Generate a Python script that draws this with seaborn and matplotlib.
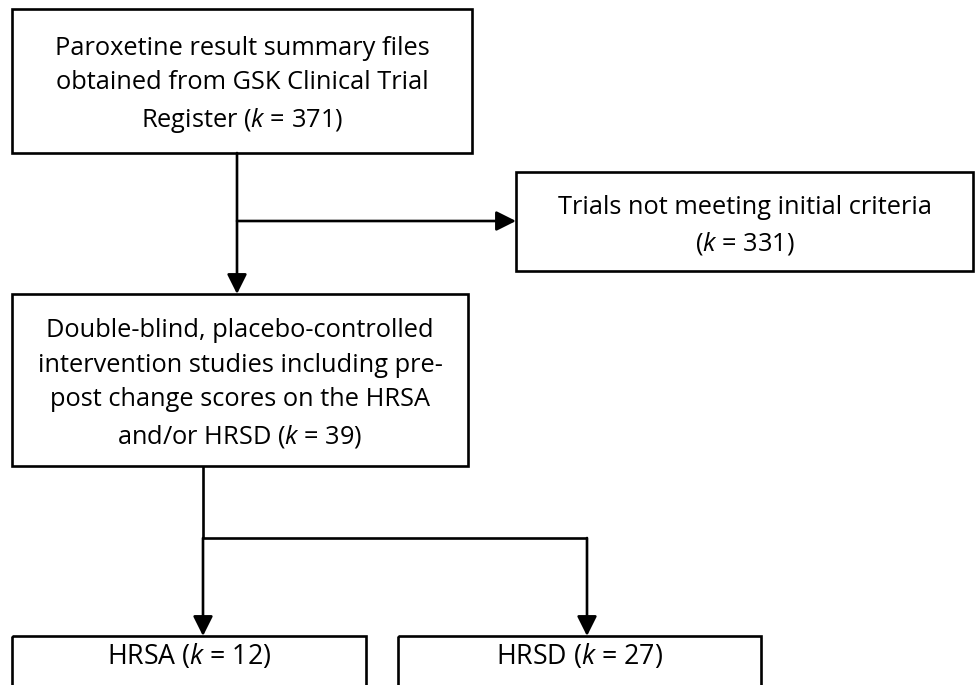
import matplotlib
matplotlib.use("Agg")
from matplotlib import pyplot as plt
from matplotlib.patches import Rectangle
import seaborn as sns

# Flow chart content
stage_labels = [
    "Paroxetine result summary files\nobtained from GSK Clinical Trial\nRegister",
    "Trials not meeting initial criteria\n",
    "Double-blind, placebo-controlled\nintervention studies including pre-\npost change scores on the HRSA\nand/or HRSD",
    "HRSA",
    "HRSD",
]
stage_k = [371, 331, 39, 12, 27]

sns.set_theme(style="white")
plt.rcParams["font.family"] = ["Open Sans", "DejaVu Sans"]
plt.rcParams["mathtext.fontset"] = "custom"
plt.rcParams["mathtext.it"] = "Open Sans:italic"
plt.rcParams["mathtext.rm"] = "Open Sans"

fig = plt.figure(figsize=(9.75, 6.85), dpi=100)
ax = fig.add_axes([0, 0, 1, 1])
ax.set_xlim(0, 975)
ax.set_ylim(685, 0)
ax.axis("off")

LW = 1.9
FS = 18.3

# boxes: x0, y0, x1, y1 (pixel layout)
boxes = [
    (12, 9, 472, 153),
    (516, 172, 973, 271),
    (12, 294, 468, 466),
    (12, 636, 366, 700),
    (398, 636, 761, 700),
]
text_y = [85, 226, 384, 656, 656]


def label(i):
    txt = stage_labels[i]
    k = f"($k$ = {stage_k[i]})"
    if txt.endswith("\n"):
        return txt + k
    return f"{txt} {k}"


for i, (x0, y0, x1, y1) in enumerate(boxes):
    ax.add_patch(Rectangle((x0, y0), x1 - x0, y1 - y0, fill=False,
                           edgecolor="black", linewidth=LW, clip_on=False))
    ax.text((x0 + x1) / 2, text_y[i], label(i), ha="center", va="center",
            fontsize=FS + (1 if i >= 3 else 0), linespacing=1.5, color="black")


def arrow(x0, y0, x1, y1):
    ax.annotate("", xy=(x1, y1), xytext=(x0, y0),
                arrowprops=dict(arrowstyle="-|>,head_length=1.0,head_width=0.5",
                                color="black", lw=LW, shrinkA=0, shrinkB=0))


def line(xs, ys):
    ax.plot(xs, ys, color="black", lw=LW, solid_capstyle="butt")


# top box -> middle box, with branch to excluded box
arrow(237, 153, 237, 294)
arrow(237, 221, 516, 221)

# middle box -> two outcome boxes
line([203, 203], [466, 538])
line([203, 587], [538, 538])
arrow(203, 538, 203, 636)
arrow(587, 538, 587, 636)

fig.savefig("out.png", dpi=100)
